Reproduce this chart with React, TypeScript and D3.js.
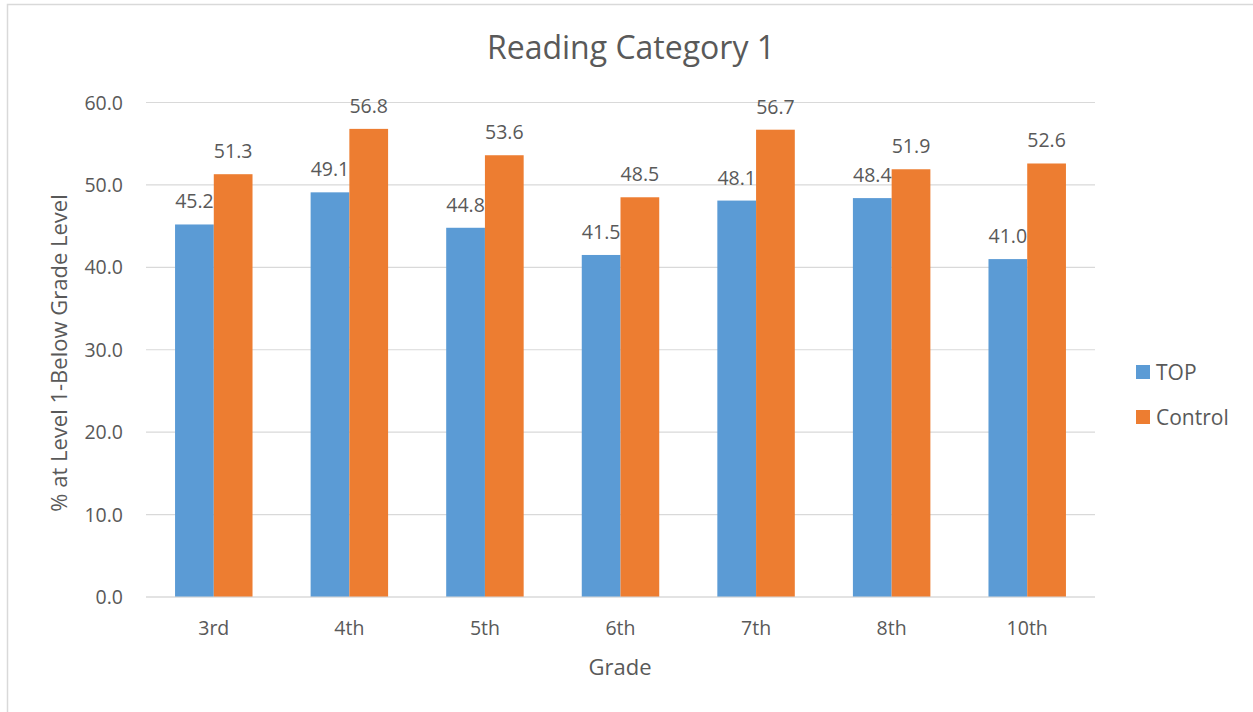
import { useEffect, useRef } from "react";
import * as d3 from "d3";

const grades = ["3rd", "4th", "5th", "6th", "7th", "8th", "10th"];
const topValues = [45.2, 49.1, 44.8, 41.5, 48.1, 48.4, 41.0];
const controlValues = [51.3, 56.8, 53.6, 48.5, 56.7, 51.9, 52.6];
const seriesNames = ["TOP", "Control"];
const colors = ["#5b9bd5", "#ed7d31"];
const yTicks = [0, 10, 20, 30, 40, 50, 60];

const FONT = "'Open Sans', 'Noto Sans', sans-serif";
const TEXT = "#595959";

const App = () => {
  const svgRef = useRef(null);

  useEffect(() => {
    if (!svgRef.current) return;
    const svg = d3.select(svgRef.current);
    svg.selectAll("*").remove();

    const W = 1253;
    const H = 712;
    const plot = { left: 146, right: 1095, top: 102.5, bottom: 597 };

    // chart border
    svg
      .append("rect")
      .attr("x", 7.5)
      .attr("y", 4.5)
      .attr("width", W)
      .attr("height", H)
      .attr("fill", "#fff")
      .attr("stroke", "#d9d9d9")
      .attr("stroke-width", 1.5);

    const x = d3
      .scaleBand()
      .domain(grades)
      .range([plot.left, plot.right])
      .paddingInner(0)
      .paddingOuter(0);

    const inner = d3
      .scaleBand()
      .domain(seriesNames)
      .range([0, x.bandwidth()])
      .paddingInner(0)
      .paddingOuter(0.75);

    const y = d3.scaleLinear().domain([0, 60]).range([plot.bottom, plot.top]);

    // gridlines
    svg
      .append("g")
      .selectAll("line")
      .data(yTicks)
      .join("line")
      .attr("x1", plot.left)
      .attr("x2", plot.right)
      .attr("y1", (d) => y(d))
      .attr("y2", (d) => y(d))
      .attr("stroke", "#d9d9d9")
      .attr("stroke-width", 1.2);

    // y tick labels
    svg
      .append("g")
      .selectAll("text")
      .data(yTicks)
      .join("text")
      .attr("x", 123)
      .attr("y", (d) => y(d) + 7)
      .attr("text-anchor", "end")
      .attr("font-family", FONT)
      .attr("font-size", 19.5)
      .attr("fill", TEXT)
      .text((d) => d3.format(".1f")(d));

    // bars
    const series = [topValues, controlValues];
    series.forEach((vals, si) => {
      const g = svg.append("g");
      g.selectAll("rect")
        .data(vals)
        .join("rect")
        .attr("x", (_, i) => (x(grades[i]) as number) + (inner(seriesNames[si]) as number))
        .attr("y", (d) => y(d))
        .attr("width", inner.bandwidth())
        .attr("height", (d) => y(0) - y(d))
        .attr("fill", colors[si]);
    });

    // data labels
    series.forEach((vals, si) => {
      svg
        .append("g")
        .selectAll("text")
        .data(vals)
        .join("text")
        .attr(
          "x",
          (_, i) =>
            (x(grades[i]) as number) + (inner(seriesNames[si]) as number) + inner.bandwidth() / 2,
        )
        .attr("y", (d) => y(d) - 16)
        .attr("text-anchor", "middle")
        .attr("font-family", FONT)
        .attr("font-size", 19.5)
        .attr("fill", TEXT)
        .text((d) => d3.format(".1f")(d));
    });

    // redraw baseline over bars
    svg
      .append("line")
      .attr("x1", plot.left)
      .attr("x2", plot.right)
      .attr("y1", y(0))
      .attr("y2", y(0))
      .attr("stroke", "#d9d9d9")
      .attr("stroke-width", 1.2);

    // x labels
    svg
      .append("g")
      .selectAll("text")
      .data(grades)
      .join("text")
      .attr("x", (d) => (x(d) as number) + x.bandwidth() / 2)
      .attr("y", 635)
      .attr("text-anchor", "middle")
      .attr("font-family", FONT)
      .attr("font-size", 19.5)
      .attr("fill", TEXT)
      .text((d) => d);

    // title
    svg
      .append("text")
      .attr("x", 631)
      .attr("y", 59)
      .attr("text-anchor", "middle")
      .attr("font-family", FONT)
      .attr("font-size", 32)
      .attr("fill", TEXT)
      .text("Reading Category 1");

    // axis titles
    svg
      .append("text")
      .attr("x", 620)
      .attr("y", 675)
      .attr("text-anchor", "middle")
      .attr("font-family", FONT)
      .attr("font-size", 22)
      .attr("fill", TEXT)
      .text("Grade");

    svg
      .append("text")
      .attr("transform", `translate(67,353) rotate(-90)`)
      .attr("text-anchor", "middle")
      .attr("font-family", FONT)
      .attr("font-size", 22)
      .attr("fill", TEXT)
      .text("% at Level 1-Below Grade Level");

    // legend
    const legend = svg.append("g").attr("transform", "translate(1136,0)");
    seriesNames.forEach((name, i) => {
      const cy = 372 + i * 45;
      legend
        .append("rect")
        .attr("x", 0)
        .attr("y", cy - 7)
        .attr("width", 14)
        .attr("height", 14)
        .attr("fill", colors[i]);
      legend
        .append("text")
        .attr("x", 20)
        .attr("y", cy + 8)
        .attr("font-family", FONT)
        .attr("font-size", 21)
        .attr("fill", TEXT)
        .text(name);
    });
  }, []);

  return (
    <svg
      ref={svgRef}
      width={1253}
      height={712}
      style={{ position: "absolute", left: 0, top: 0, display: "block" }}
    />
  );
};

export default App;
